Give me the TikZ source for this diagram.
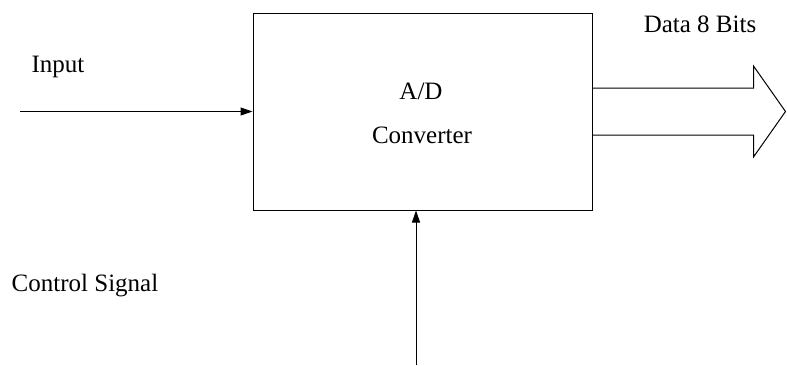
\documentclass[tikz,border=0pt]{standalone}
\usepackage{fontspec}
\setmainfont{Liberation Serif}
\usetikzlibrary{arrows.meta,calc}

\begin{document}
\begin{tikzpicture}[x=0.5pt,y=-0.5pt,line width=0.5pt,
  every node/.style={font=\fontsize{12.5}{15}\selectfont},
  block/.style={draw,minimum width=169.5pt,minimum height=98.5pt,inner sep=0pt},
  sig/.style={-{Triangle[length=6pt,width=4pt]}}]
  \useasboundingbox (0,0) rectangle (787,365);
  \node[block] (adc) at (422.5,111.5) {};
  \node (ad) at (421,91) {A/D};
  \node (conv) at (422,135) {Converter};
  \node (inlbl) at (58,67) {Input};
  \node (datalbl) at (700,24) {Data 8 Bits};
  \node (ctllbl) at (85,286) {Control Signal};
  % input and control lines
  \coordinate (in) at (20,111.5);
  \coordinate (ctl) at (416,365);
  \draw[sig] (in) -- (adc.west);
  \draw[sig] (ctl) -- (ctl |- adc.south);
  % data bus arrow
  \draw ($(adc.east)+(0,-23.5)$) -- ++(161,0) -- ++(0,-22)
    -- ($(adc.east)+(193,0)$) -- ++(-32,45.5) -- ++(0,-22) -- ++(-161,0);
\end{tikzpicture}
\end{document}
